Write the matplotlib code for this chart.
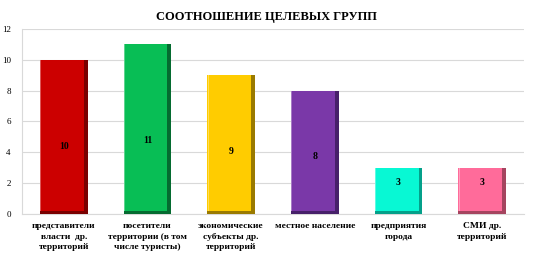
import numpy as np
import matplotlib.pyplot as plt

categories = ['представители\nвласти  др.\nтерриторий',
              'посетители\nтерритории (в том\nчисле туристы)',
              'экономические\nсубъекты др.\nтерриторий',
              'местное население',
              'предприятия\nгорода',
              'СМИ др.\nтерриторий']
values = [10, 11, 9, 8, 3, 3]
colors = ['#CC0000', '#08BE55', '#FFCC00', '#7A38A8', '#08F8D4', '#FF6B9A']
shades = ['#7A0000', '#056B30', '#9A7A00', '#47206A', '#04A08A', '#A5445F']

plt.rcParams['font.family'] = ['Liberation Serif', 'DejaVu Serif']

fig = plt.figure(figsize=(5.33, 2.56), dpi=100)
ax = fig.add_axes([0.041, 0.164, 0.942, 0.723])

x = np.arange(len(values))
w = 0.57
d = 0.045
vals = np.array(values, dtype=float)

# dark bevel under, lighter face on top
ax.bar(x, vals, width=w, color=shades, zorder=3)
ax.bar(x - d / 2, vals - 0.22, bottom=0.22, width=w - d, color=colors, zorder=4)
ax.bar(x - w / 2 + 0.01, vals - 0.22, bottom=0.22, width=0.012, color='white', alpha=0.35, zorder=5)

for xi, v in zip(x, values):
    ax.text(xi, 0.34 * v + 1.0, str(v), ha='center', va='center',
            fontsize=7, fontweight='bold', zorder=6)

ax.set_xlim(-0.5, len(values) - 0.5)
ax.set_ylim(0, 12)
ax.set_yticks(range(0, 13, 2))
ax.yaxis.grid(True, color='#D9D9D9', linewidth=0.8, zorder=0)
ax.set_axisbelow(True)
ax.set_xticks(x)
ax.set_xticklabels(categories, fontsize=6.8, fontweight='bold', linespacing=1.42)
ax.tick_params(axis='x', length=0, pad=6)
ax.tick_params(axis='y', length=0, labelsize=6.5, pad=8)
for s in ['top', 'right']:
    ax.spines[s].set_visible(False)
ax.spines['left'].set_color('#D9D9D9')
ax.spines['bottom'].set_color('#D9D9D9')

fig.text(0.5, 0.935, 'СООТНОШЕНИЕ ЦЕЛЕВЫХ ГРУПП', ha='center', va='center',
         fontsize=9, fontweight='bold')

fig.savefig('out.png', dpi=100)
